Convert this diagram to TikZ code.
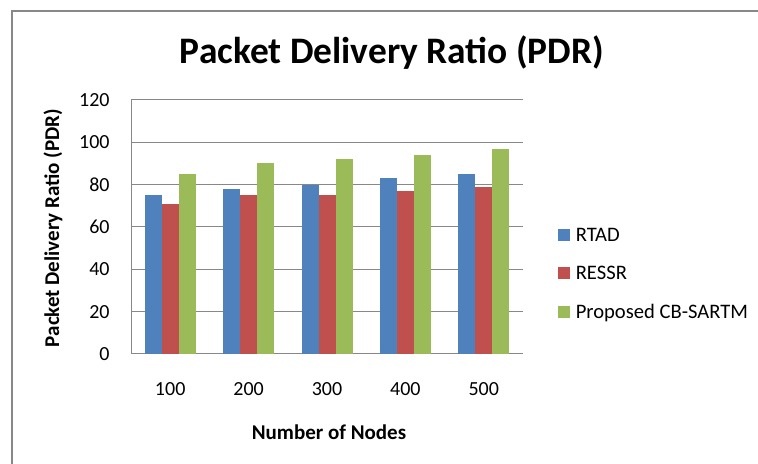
\documentclass[tikz,border=0pt]{standalone}
\usepackage{fontspec}
\setmainfont{Carlito}
\usepackage{tikz}
\usetikzlibrary{positioning}
\definecolor{rtadblue}{HTML}{4F81BD}
\definecolor{ressrred}{HTML}{C0504D}
\definecolor{cbgreen}{HTML}{9BBB59}
\definecolor{gridgray}{HTML}{888888}

\begin{document}
\begin{tikzpicture}[x=0.5bp,y=-0.5bp,
  gridline/.style={draw=gridgray, line width=0.5bp},
  ticklabel/.style={font=\fontsize{10bp}{12bp}\selectfont, inner sep=0pt},
  axistitle/.style={font=\bfseries\fontsize{10.5bp}{12bp}\selectfont, inner sep=0pt},
  legendbox/.style={minimum size=6bp, inner sep=0pt},
  legendtext/.style={font=\fontsize{10.3bp}{12bp}\selectfont, inner sep=0pt,
                     text height=6.6bp, text depth=0pt}]
\useasboundingbox (0,0) rectangle (758,464);
% chart frame
\draw[gridgray, line width=1bp] (12,464) -- (12,11) -- (758,11);

\node[font=\bfseries\fontsize{18.7bp}{22bp}\selectfont]
     (title) at (392,53) {Packet Delivery Ratio (PDR)};

% grid and y axis
\foreach \v in {0,20,...,120}{
  \draw[gridline] (131,{354-2.1167*\v}) -- (523,{354-2.1167*\v});
  \node[ticklabel, anchor=east] (y\v) at (110,{354-2.1167*\v}) {\v};
}
\draw[gridline] (131,100) -- (131,354);

% bars
\foreach \n/\a/\b/\c [count=\i from 0] in {100/75/71/85, 200/78/75/90,
    300/80/75/92, 400/83/77/94, 500/85/79/97}{
  \pgfmathsetmacro\cx{170.2+78.4*\i}
  \fill[rtadblue] (\cx-25.5,354) rectangle (\cx-8.5,{354-2.1167*\a});
  \fill[ressrred] (\cx-8.5,354) rectangle (\cx+8.5,{354-2.1167*\b});
  \fill[cbgreen] (\cx+8.5,354) rectangle (\cx+25.5,{354-2.1167*\c});
  \node[ticklabel] (x\n) at (\cx,389) {\n};
}

\node[axistitle] (xlabel) at (329,432) {Number of Nodes};
\node[axistitle, rotate=90] (ylabel) at (53,228) {Packet Delivery Ratio (PDR)};

% legend
\node[legendbox, fill=rtadblue] (keyrtad) at (564,235) {};
\node[legendbox, fill=ressrred] (keyressr) at (564,273) {};
\node[legendbox, fill=cbgreen] (keycb) at (564,312) {};
\node[legendtext, right=2.5bp of keyrtad] (rtad) {RTAD};
\node[legendtext, right=2.5bp of keyressr] (ressr) {RESSR};
\node[legendtext, right=2.5bp of keycb] (cb) {Proposed CB-SARTM};
\end{tikzpicture}
\end{document}
